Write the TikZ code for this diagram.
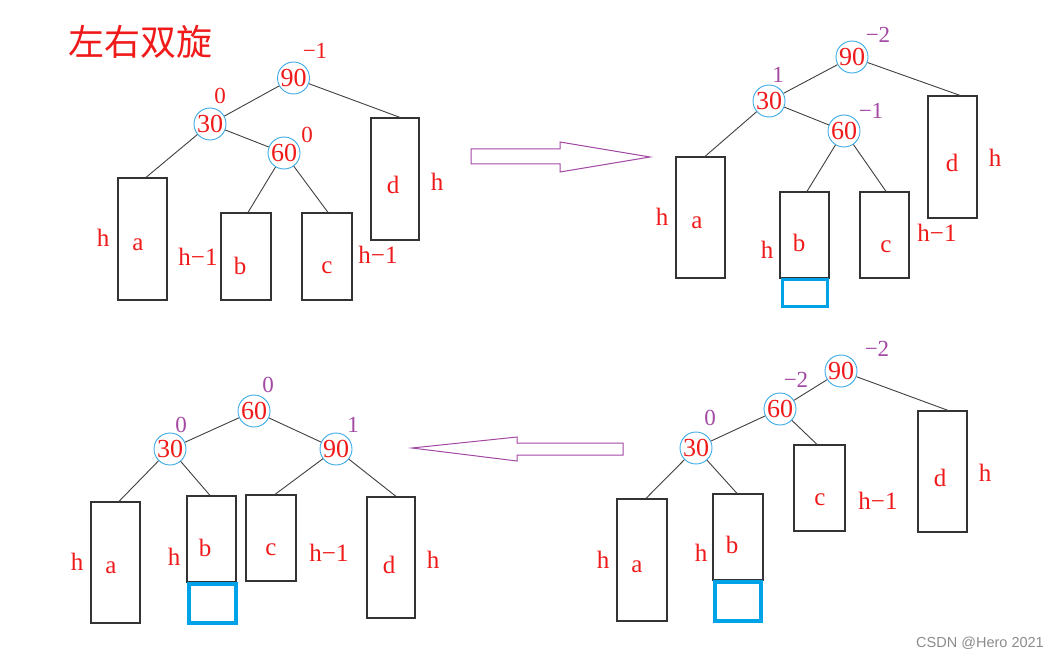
\documentclass[tikz,border=0pt]{standalone}
\usepackage{fontspec}
\setmainfont{Liberation Serif}
\newfontfamily\cjk{Noto Sans CJK SC}
\newfontfamily\wmfont{Liberation Sans}
\definecolor{tred}{HTML}{F01A1A}
\definecolor{pur}{HTML}{A349A4}
\definecolor{cblue}{HTML}{3DAAE6}
\definecolor{bblue}{HTML}{00A2E8}
\tikzset{
  nd/.style={circle, draw=cblue, line width=0.9pt, minimum size=32pt, inner sep=0pt, text=tred, font=\fontsize{26}{26}\selectfont},
  bx/.style 2 args={draw=black!80, line width=1.2pt, inner sep=0pt, minimum width=#1pt, minimum height=#2pt},
  bluebox/.style 2 args={draw=bblue, line width=3.6pt, inner sep=0pt, minimum width=#1pt, minimum height=#2pt},
  edge/.style={draw=black!75, line width=0.9pt},
  lbl/.style={text=tred, font=\fontsize{25}{25}\selectfont, inner sep=0pt},
  bal/.style={text=pur, font=\fontsize{23}{23}\selectfont, inner sep=0pt},
  balr/.style={text=tred, font=\fontsize{23}{23}\selectfont, inner sep=0pt},
  bigarrow/.style={draw=pur, line width=1pt, fill=white, line join=miter}
}
\begin{document}
\begin{tikzpicture}[x=1pt,y=-1pt]
\useasboundingbox[fill=white] (0,0) rectangle (1058,658);

% title
\node[text=tred, font=\cjk\fontsize{36}{36}\selectfont, inner sep=0pt] (title) at (140,42) {左右双旋};

% ---------------- panel 1 ----------------
\node[nd] (p1n90) at (293.5,78) {90};
\node[nd] (p1n30) at (210,124) {30};
\node[nd] (p1n60) at (284,153) {60};
\node[bx={49}{122}] (p1a) at (142.5,239) {};
\node[bx={50}{87}] (p1b) at (246,256.5) {};
\node[bx={50}{87}] (p1c) at (327,256.5) {};
\node[bx={48}{122}] (p1d) at (395,179) {};
\draw[edge] (p1n90) -- (p1n30);
\draw[edge] (p1n90) -- ([xshift=5pt]p1d.north);
\draw[edge] (p1n30) -- ([xshift=3.5pt]p1a.north);
\draw[edge] (p1n30) -- (p1n60);
\draw[edge] (p1n60) -- ([xshift=2pt]p1b.north);
\draw[edge] (p1n60) -- ([xshift=1pt]p1c.north);
\node[balr] (p1k90) at (315,51) {−1};
\node[balr] (p1k30) at (220,96) {0};
\node[balr] (p1k60) at (307,135) {0};
\node[lbl] (p1la) at (138,245) {a};
\node[lbl] (p1lb) at (240,266) {b};
\node[lbl] (p1lc) at (327,268) {c};
\node[lbl] (p1ld) at (393,185) {d};
\node[lbl] (p1ha) at (103,238) {h};
\node[lbl] (p1hb) at (198,257) {h−1};
\node[lbl] (p1hc) at (378,255) {h−1};
\node[lbl] (p1hd) at (437,182) {h};

% arrow 1
\draw[bigarrow] (471,149) -- (560,149) -- (560,142) -- (650,157) -- (560,172) -- (560,164) -- (471,164) -- cycle;

% ---------------- panel 2 ----------------
\node[nd] (p2n90) at (852,57) {90};
\node[nd] (p2n30) at (769,101) {30};
\node[nd] (p2n60) at (844,131) {60};
\node[bx={49}{121}] (p2a) at (700.5,217.5) {};
\node[bx={49}{86}] (p2b) at (804.5,235) {};
\node[bluebox={45}{27}] (p2x) at (805,293) {};
\node[bx={49}{86}] (p2c) at (884.5,235) {};
\node[bx={49}{122}] (p2d) at (952.5,157) {};
\draw[edge] (p2n90) -- (p2n30);
\draw[edge] (p2n90) -- ([xshift=7.5pt]p2d.north);
\draw[edge] (p2n30) -- ([xshift=4.5pt]p2a.north);
\draw[edge] (p2n30) -- (p2n60);
\draw[edge] (p2n60) -- ([xshift=2.5pt]p2b.north);
\draw[edge] (p2n60) -- ([xshift=1.5pt]p2c.north);
\node[bal] (p2k90) at (878,35) {−2};
\node[bal] (p2k30) at (778,75) {1};
\node[bal] (p2k60) at (871,111) {−1};
\node[lbl] (p2la) at (697,223) {a};
\node[lbl] (p2lb) at (799,243) {b};
\node[lbl] (p2lc) at (886,247) {c};
\node[lbl] (p2ld) at (952,163) {d};
\node[lbl] (p2ha) at (662,217) {h};
\node[lbl] (p2hb) at (767,250) {h};
\node[lbl] (p2hc) at (937,233) {h−1};
\node[lbl] (p2hd) at (995,158) {h};

% ---------------- panel 3 ----------------
\node[nd] (p3n60) at (254,411) {60};
\node[nd] (p3n30) at (170,449) {30};
\node[nd] (p3n90) at (336,449) {90};
\node[bx={49}{121}] (p3a) at (115.5,562.5) {};
\node[bx={49}{86}] (p3b) at (211.5,539) {};
\node[bluebox={47}{39}] (p3x) at (212.5,603.5) {};
\node[bx={50}{86}] (p3c) at (271,538) {};
\node[bx={48}{121}] (p3d) at (391,557.5) {};
\draw[edge] (p3n60) -- (p3n30);
\draw[edge] (p3n60) -- (p3n90);
\draw[edge] (p3n30) -- ([xshift=3.5pt]p3a.north);
\draw[edge] (p3n30) -- ([xshift=-1.5pt]p3b.north);
\draw[edge] (p3n90) -- ([xshift=4pt]p3c.north);
\draw[edge] (p3n90) -- ([xshift=5pt]p3d.north);
\node[bal] (p3k60) at (268,385) {0};
\node[bal] (p3k30) at (181,425) {0};
\node[bal] (p3k90) at (353,425) {1};
\node[lbl] (p3la) at (111,568) {a};
\node[lbl] (p3lb) at (205,548) {b};
\node[lbl] (p3lc) at (271,550) {c};
\node[lbl] (p3ld) at (389,565) {d};
\node[lbl] (p3ha) at (77,562) {h};
\node[lbl] (p3hb) at (174,557) {h};
\node[lbl] (p3hc) at (329,553) {h−1};
\node[lbl] (p3hd) at (433,560) {h};

% arrow 2
\draw[bigarrow] (623,443) -- (517,443) -- (517,437) -- (412,448) -- (517,461) -- (517,455) -- (623,455) -- cycle;

% ---------------- panel 4 ----------------
\node[nd] (p4n90) at (841,371) {90};
\node[nd] (p4n60) at (780,409) {60};
\node[nd] (p4n30) at (696,448) {30};
\node[bx={50}{122}] (p4a) at (642,560) {};
\node[bx={50}{86}] (p4b) at (738,537) {};
\node[bluebox={46}{39}] (p4x) at (738,601.5) {};
\node[bx={51}{86}] (p4c) at (819.5,488) {};
\node[bx={49}{121}] (p4d) at (942.5,471.5) {};
\draw[edge] (p4n90) -- (p4n60);
\draw[edge] (p4n90) -- ([xshift=5.5pt]p4d.north);
\draw[edge] (p4n60) -- (p4n30);
\draw[edge] (p4n60) -- ([xshift=-2.5pt]p4c.north);
\draw[edge] (p4n30) -- ([xshift=4pt]p4a.north);
\draw[edge] (p4n30) -- ([xshift=-1pt]p4b.north);
\node[bal] (p4k90) at (877,349) {−2};
\node[bal] (p4k60) at (796,380) {−2};
\node[bal] (p4k30) at (710,418) {0};
\node[lbl] (p4la) at (637,567) {a};
\node[lbl] (p4lb) at (732,545) {b};
\node[lbl] (p4lc) at (820,500) {c};
\node[lbl] (p4ld) at (940,478) {d};
\node[lbl] (p4ha) at (603,560) {h};
\node[lbl] (p4hb) at (701,553) {h};
\node[lbl] (p4hc) at (878,501) {h−1};
\node[lbl] (p4hd) at (985,473) {h};

% watermark
\node[text=black!45, font=\wmfont\fontsize{14.5}{14.5}\selectfont, inner sep=0pt] (wm) at (980,643) {CSDN @Hero 2021};
\end{tikzpicture}
\end{document}
